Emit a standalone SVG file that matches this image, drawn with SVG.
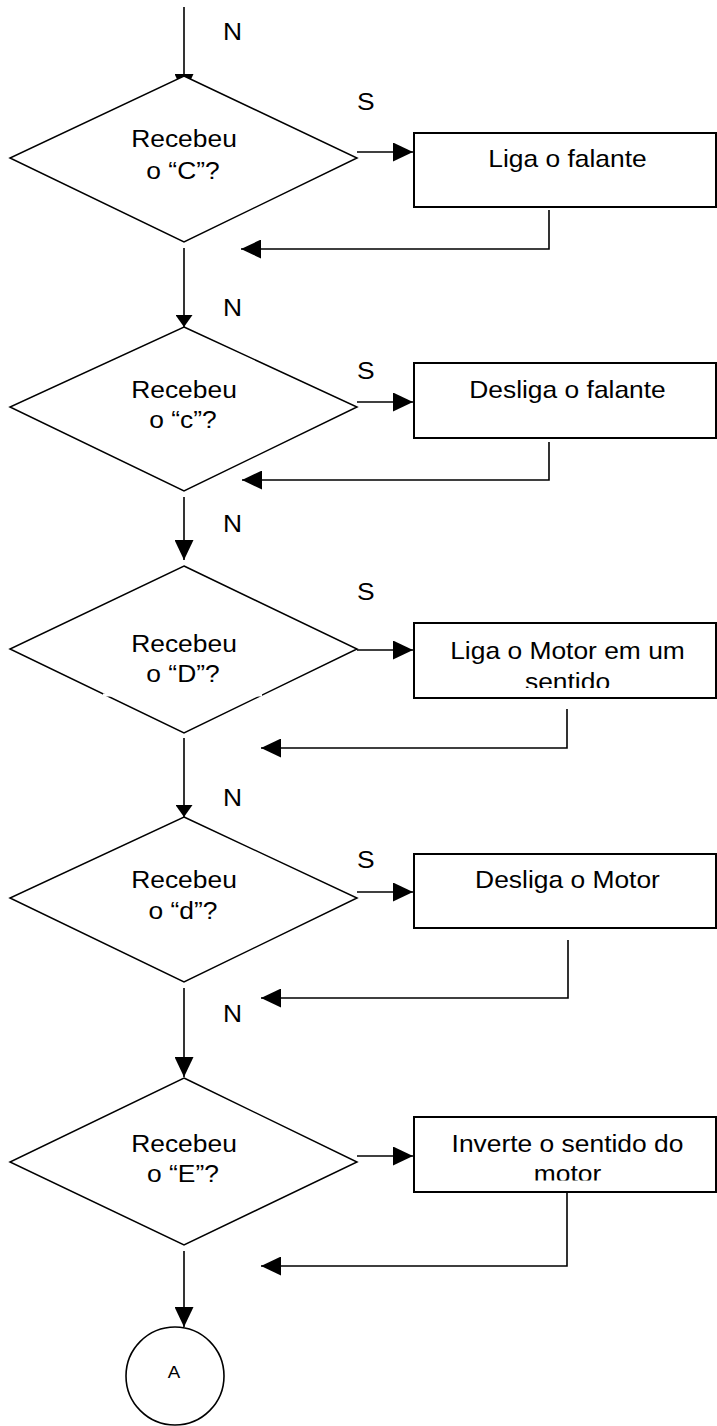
<svg xmlns="http://www.w3.org/2000/svg" width="717" height="1426" viewBox="0 0 717 1426">
<style>
text{font-family:"Liberation Sans",Arial,sans-serif;font-size:24px;fill:#000}
.c{text-anchor:middle}
.d{fill:#fff;stroke:#000;stroke-width:1.5}
.r{fill:#fff;stroke:#000;stroke-width:2}
.ln{fill:none;stroke:#000;stroke-width:1.6}
.gap{stroke:#fff;stroke-width:3}
</style>
<defs>
<marker id="a" markerUnits="userSpaceOnUse" viewBox="0 0 20 19" refX="20" refY="9.5" markerWidth="20" markerHeight="19" orient="auto"><path d="M0,0 L20,9.5 L0,19 z" fill="#000"/></marker>
<marker id="as" markerUnits="userSpaceOnUse" viewBox="0 0 12 17" refX="12" refY="8.5" markerWidth="12" markerHeight="17" orient="auto"><path d="M0,0 L12,8.5 L0,17 z" fill="#000"/></marker>
<clipPath id="clip3"><rect x="414" y="600" width="303" height="88"/></clipPath>
<clipPath id="clip5"><rect x="414" y="1100" width="303" height="80.5"/></clipPath>
</defs>

<g id="connectors">
<path class="ln" d="M184,7 V94" marker-end="url(#a)"/>
<path class="ln" d="M357,152 H413" marker-end="url(#a)"/>
<path class="ln" d="M549,210 V249 H241" marker-end="url(#a)"/>
<path class="ln" d="M184,248 V327" marker-end="url(#as)"/>
<path class="ln" d="M357,402 H413" marker-end="url(#a)"/>
<path class="ln" d="M549,442 V480 H242" marker-end="url(#a)"/>
<path class="ln" d="M184,497 V560" marker-end="url(#a)"/>
<path class="ln" d="M357,650 H413" marker-end="url(#a)"/>
<path class="ln" d="M567,709 V748 H261" marker-end="url(#a)"/>
<path class="ln" d="M184,738 V817" marker-end="url(#as)"/>
<path class="ln" d="M357,892 H413" marker-end="url(#a)"/>
<path class="ln" d="M568,940 V998 H261" marker-end="url(#a)"/>
<path class="ln" d="M184,988 V1077" marker-end="url(#a)"/>
<path class="ln" d="M357,1156 H413" marker-end="url(#a)"/>
<path class="ln" d="M567,1190 V1266 H261" marker-end="url(#a)"/>
<path class="ln" d="M184,1251 V1327" marker-end="url(#a)"/>
<text transform="translate(223,40) scale(1.1,1)">N</text>
<text transform="translate(357,110) scale(1.1,1)">S</text>
<text transform="translate(223,316) scale(1.1,1)">N</text>
<text transform="translate(357,379) scale(1.1,1)">S</text>
<text transform="translate(223,532) scale(1.1,1)">N</text>
<text transform="translate(357,600) scale(1.1,1)">S</text>
<text transform="translate(223,806) scale(1.1,1)">N</text>
<text transform="translate(357,868) scale(1.1,1)">S</text>
<text transform="translate(223,1022) scale(1.1,1)">N</text>
</g>

<g id="dec1">
<polygon class="d" points="184,76 357,158 184,242 10,158"/>
<text class="c" transform="translate(184,147) scale(1.1,1)">Recebeu</text>
<text class="c" transform="translate(183,179) scale(1.1,1)">o “C”?</text>
</g>
<g id="proc1">
<rect class="r" x="414" y="133" width="302" height="74"/>
<text class="c" transform="translate(567.5,167) scale(1.1,1)">Liga o falante</text>
</g>

<g id="dec2">
<polygon class="d" points="184,327 357,407 184,491 10,407"/>
<text class="c" transform="translate(184,398) scale(1.1,1)">Recebeu</text>
<text class="c" transform="translate(183,428) scale(1.1,1)">o “c”?</text>
</g>
<g id="proc2">
<rect class="r" x="414" y="363" width="302" height="75"/>
<text class="c" transform="translate(567.5,398) scale(1.1,1)">Desliga o falante</text>
</g>

<g id="dec3">
<polygon class="d" points="184,566 357,649 184,733 10,649"/>
<line class="gap" x1="103" y1="695" x2="112" y2="695"/>
<line class="gap" x1="253" y1="695" x2="262" y2="695"/>
<text class="c" transform="translate(184,652) scale(1.1,1)">Recebeu</text>
<text class="c" transform="translate(183,682) scale(1.1,1)">o “D”?</text>
</g>
<g id="proc3">
<rect class="r" x="414" y="623" width="302" height="75"/>
<text class="c" transform="translate(567.5,659) scale(1.1,1)">Liga o Motor em um</text>
<g clip-path="url(#clip3)"><text class="c" transform="translate(567.5,690) scale(1.1,1)">sentido</text></g>
</g>

<g id="dec4">
<polygon class="d" points="184,817 357,898 184,982 10,898"/>
<text class="c" transform="translate(184,888) scale(1.1,1)">Recebeu</text>
<text class="c" transform="translate(183,919) scale(1.1,1)">o “d”?</text>
</g>
<g id="proc4">
<rect class="r" x="414" y="854" width="302" height="74"/>
<text class="c" transform="translate(567.5,888) scale(1.1,1)">Desliga o Motor</text>
</g>

<g id="dec5">
<polygon class="d" points="184,1078 357,1162 184,1245 10,1162"/>
<text class="c" transform="translate(184,1152) scale(1.1,1)">Recebeu</text>
<text class="c" transform="translate(183,1182) scale(1.1,1)">o “E”?</text>
</g>
<g id="proc5">
<rect class="r" x="414" y="1117" width="302" height="75"/>
<text class="c" transform="translate(567.5,1152) scale(1.1,1)">Inverte o sentido do</text>
<g clip-path="url(#clip5)"><text class="c" transform="translate(567.5,1182) scale(1.1,1)">motor</text></g>
</g>

<g id="connA">
<circle cx="175" cy="1376" r="49" fill="#fff" stroke="#000" stroke-width="1.6"/>
<text class="c" style="font-size:17px" transform="translate(174,1378) scale(1.1,1)">A</text>
</g>
</svg>
